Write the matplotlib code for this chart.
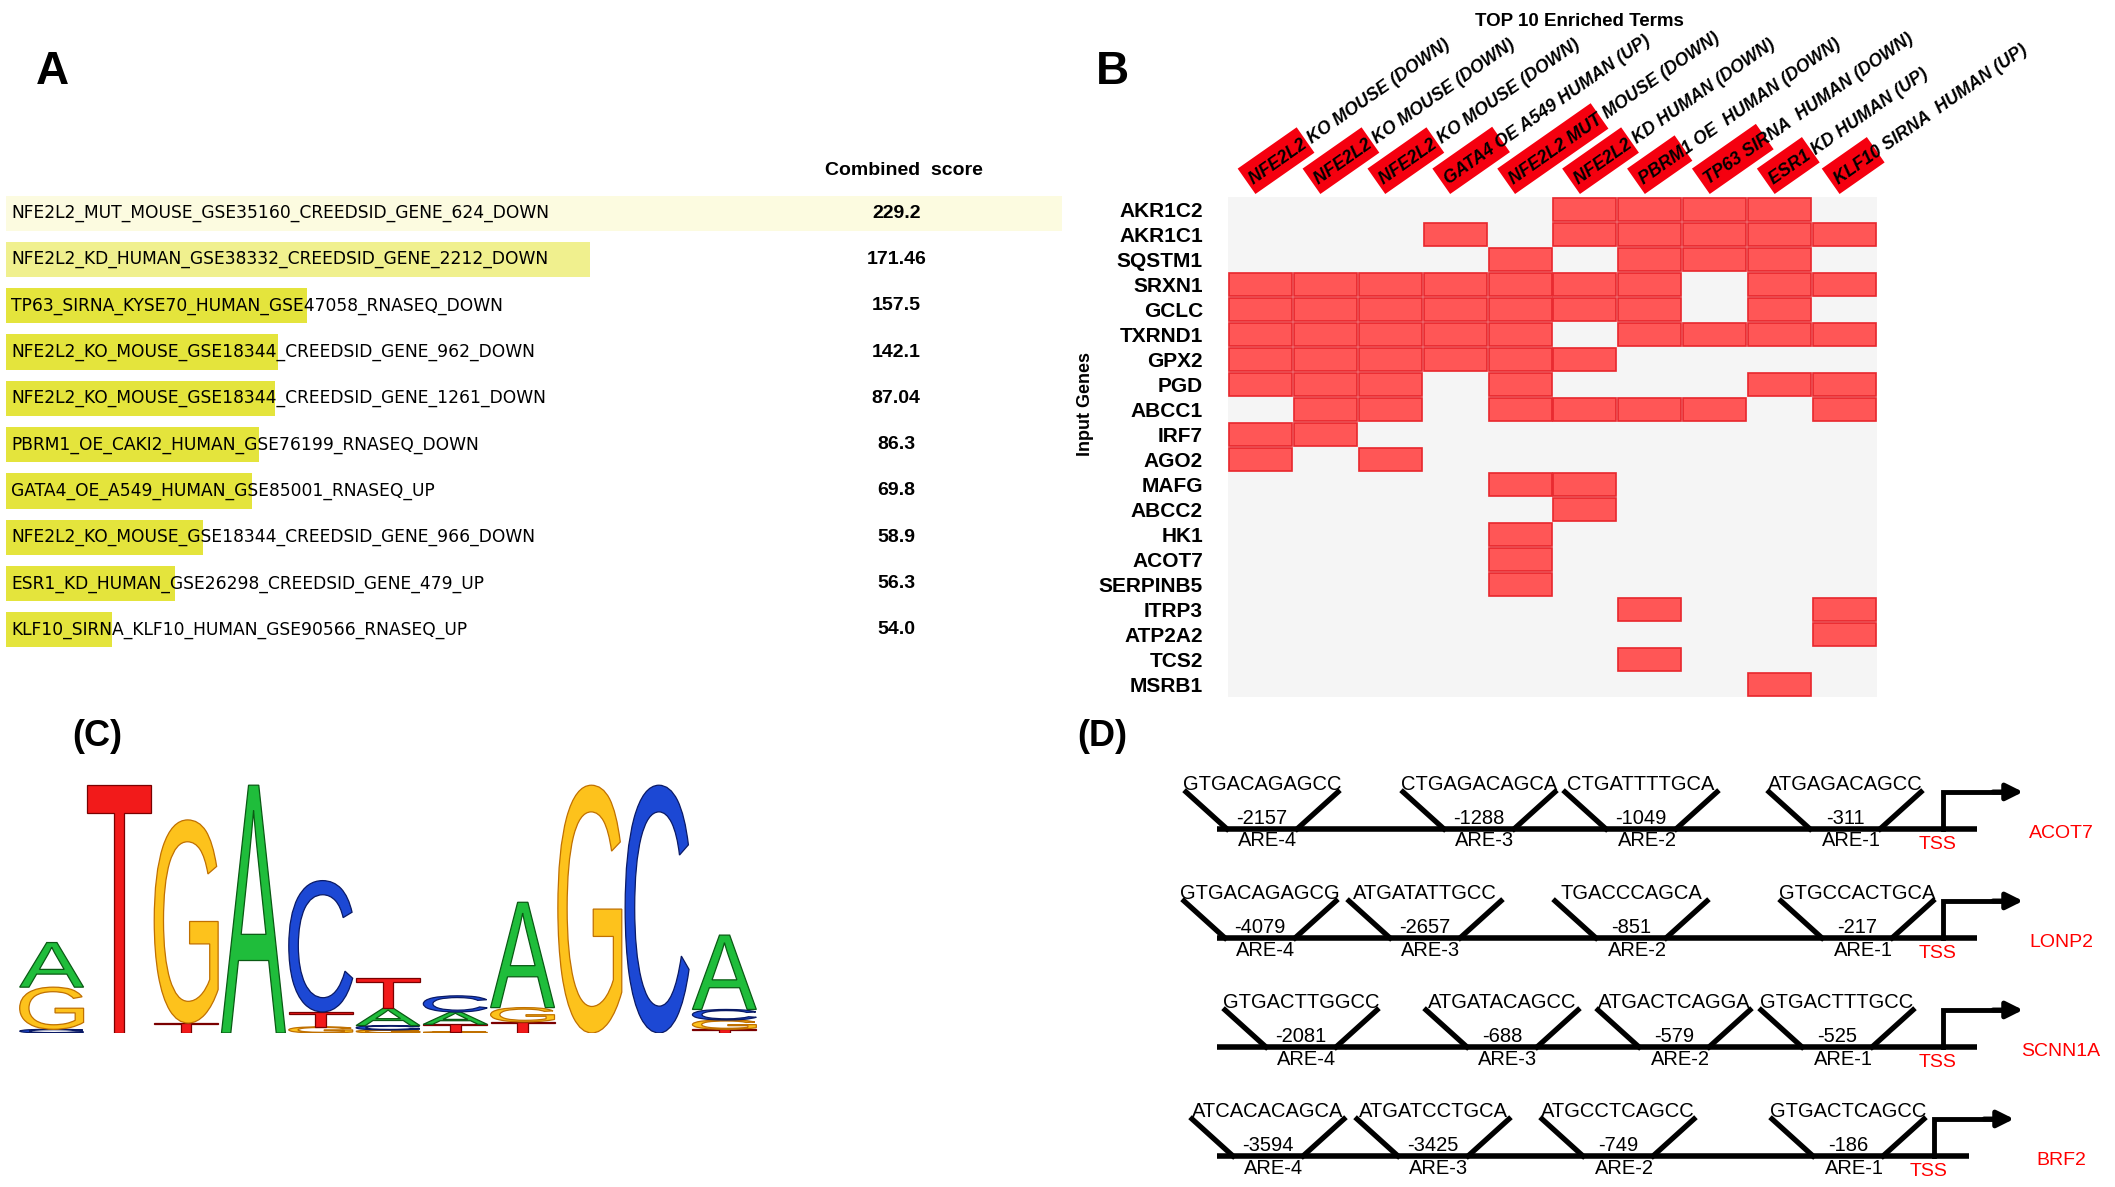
import numpy as np
import matplotlib
matplotlib.use("Agg")
import matplotlib.pyplot as plt
import matplotlib.transforms as mtransforms
from matplotlib import font_manager
from matplotlib.patches import Rectangle, PathPatch
from matplotlib.textpath import TextPath
from matplotlib.font_manager import FontProperties

W, H, DPI = 2115, 1187, 100

# ---------------- panel A data ----------------
terms_a = ["NFE2L2_MUT_MOUSE_GSE35160_CREEDSID_GENE_624_DOWN",
           "NFE2L2_KD_HUMAN_GSE38332_CREEDSID_GENE_2212_DOWN",
           "TP63_SIRNA_KYSE70_HUMAN_GSE47058_RNASEQ_DOWN",
           "NFE2L2_KO_MOUSE_GSE18344_CREEDSID_GENE_962_DOWN",
           "NFE2L2_KO_MOUSE_GSE18344_CREEDSID_GENE_1261_DOWN",
           "PBRM1_OE_CAKI2_HUMAN_GSE76199_RNASEQ_DOWN",
           "GATA4_OE_A549_HUMAN_GSE85001_RNASEQ_UP",
           "NFE2L2_KO_MOUSE_GSE18344_CREEDSID_GENE_966_DOWN",
           "ESR1_KD_HUMAN_GSE26298_CREEDSID_GENE_479_UP",
           "KLF10_SIRNA_KLF10_HUMAN_GSE90566_RNASEQ_UP"]
scores_a = ["229.2", "171.46", "157.5", "142.1", "87.04", "86.3", "69.8", "58.9", "56.3", "54.0"]
bar_len = [1.0, 0.553, 0.285, 0.258, 0.255, 0.24, 0.233, 0.187, 0.16, 0.10]
bar_col = ["#fcfbe0", "#f0f08e"] + ["#e4e43c"] * 8

# ---------------- panel B data ----------------
terms_b = ["NFE2L2 KO MOUSE (DOWN)", "NFE2L2 KO MOUSE (DOWN)", "NFE2L2 KO MOUSE (DOWN)",
           "GATA4 OE A549 HUMAN (UP)", "NFE2L2 MUT MOUSE (DOWN)", "NFE2L2 KD HUMAN (DOWN)",
           "PBRM1 OE  HUMAN (DOWN)", "TP63 SIRNA  HUMAN (DOWN)", "ESR1 KD HUMAN (UP)",
           "KLF10 SIRNA  HUMAN (UP)"]
tag_len = [72, 72, 72, 73, 114, 72, 58, 78, 55, 55]
genes = ["AKR1C2", "AKR1C1", "SQSTM1", "SRXN1", "GCLC", "TXRND1", "GPX2", "PGD", "ABCC1",
         "IRF7", "AGO2", "MAFG", "ABCC2", "HK1", "ACOT7", "SERPINB5", "ITRP3", "ATP2A2",
         "TCS2", "MSRB1"]
hits = np.array([
    [0, 0, 0, 0, 0, 1, 1, 1, 1, 0],
    [0, 0, 0, 1, 0, 1, 1, 1, 1, 1],
    [0, 0, 0, 0, 1, 0, 1, 1, 1, 0],
    [1, 1, 1, 1, 1, 1, 1, 0, 1, 1],
    [1, 1, 1, 1, 1, 1, 1, 0, 1, 0],
    [1, 1, 1, 1, 1, 0, 1, 1, 1, 1],
    [1, 1, 1, 1, 1, 1, 0, 0, 0, 0],
    [1, 1, 1, 0, 1, 0, 0, 0, 1, 1],
    [0, 1, 1, 0, 1, 1, 1, 1, 0, 1],
    [1, 1, 0, 0, 0, 0, 0, 0, 0, 0],
    [1, 0, 1, 0, 0, 0, 0, 0, 0, 0],
    [0, 0, 0, 0, 1, 1, 0, 0, 0, 0],
    [0, 0, 0, 0, 0, 1, 0, 0, 0, 0],
    [0, 0, 0, 0, 1, 0, 0, 0, 0, 0],
    [0, 0, 0, 0, 1, 0, 0, 0, 0, 0],
    [0, 0, 0, 0, 1, 0, 0, 0, 0, 0],
    [0, 0, 0, 0, 0, 0, 1, 0, 0, 1],
    [0, 0, 0, 0, 0, 0, 0, 0, 0, 1],
    [0, 0, 0, 0, 0, 0, 1, 0, 0, 0],
    [0, 0, 0, 0, 0, 0, 0, 0, 1, 0]])

# ---------------- panel C data (bits, bottom -> top) ----------------
logo = [
    [("C", 0.03), ("G", 0.34), ("A", 0.36)],
    [("T", 2.0)],
    [("T", 0.08), ("G", 1.64)],
    [("A", 2.0)],
    [("G", 0.05), ("T", 0.12), ("C", 1.06)],
    [("G", 0.025), ("C", 0.035), ("A", 0.14), ("T", 0.24)],
    [("G", 0.01), ("T", 0.06), ("A", 0.10), ("C", 0.13)],
    [("T", 0.09), ("G", 0.115), ("A", 0.85)],
    [("G", 2.0)],
    [("C", 2.0)],
    [("T", 0.03), ("G", 0.075), ("C", 0.085), ("A", 0.60)],
]
base_fc = {"A": "#1fbd3b", "C": "#1c48d4", "G": "#fdc21c", "T": "#f21a1a"}
base_ec = {"A": "#0a5a14", "C": "#0a1a66", "G": "#c07000", "T": "#7a0000"}

# ---------------- panel D data ----------------
d_genes = ["ACOT7", "LONP2", "SCNN1A", "BRF2"]
d_seqs = [["GTGACAGAGCC", "CTGAGACAGCA", "CTGATTTTGCA", "ATGAGACAGCC"],
          ["GTGACAGAGCG", "ATGATATTGCC", "TGACCCAGCA", "GTGCCACTGCA"],
          ["GTGACTTGGCC", "ATGATACAGCC", "ATGACTCAGGA", "GTGACTTTGCC"],
          ["ATCACACAGCA", "ATGATCCTGCA", "ATGCCTCAGCC", "GTGACTCAGCC"]]
d_pos = [[-2157, -1288, -1049, -311],
         [-4079, -2657, -851, -217],
         [-2081, -688, -579, -525],
         [-3594, -3425, -749, -186]]
# schematic (not to scale) site positions, relative to TSS
d_site_x = [[-681, -464, -302, -98],
            [-683, -518, -312, -86],
            [-642, -441, -269, -106],
            [-675, -510, -325, -95]]
d_tss_x = [0, 0, 0, -9]
d_line_end = [34, 34, 34, 26]
d_line_start = -726

# ---------------- fonts ----------------
names = {f.name for f in font_manager.fontManager.ttflist}
narrow = "Liberation Sans Narrow" if "Liberation Sans Narrow" in names else "DejaVu Sans"
arial = "Liberation Sans"

fig = plt.figure(figsize=(W / DPI, H / DPI), dpi=DPI)


def px_axes(x0, y0, x1, y1):
    return fig.add_axes([x0 / W, 1 - y1 / H, (x1 - x0) / W, (y1 - y0) / H])


# ================= A =================
axA = px_axes(6, 190, 1062, 653)
axA.barh(range(len(terms_a)), bar_len, height=0.76, color=bar_col)
# fit row text to the width seen in the reference
tw = TextPath((0, 0), terms_a[0], size=10, prop=FontProperties(family=narrow)).get_extents().width
fsA = min(16, 10 * 536 / (tw * DPI / 72))
for i, t in enumerate(terms_a):
    axA.text(0.005, i, t, family=narrow, fontsize=fsA, ha="left", va="center")
    axA.text(0.843, i, scores_a[i], family=arial, fontsize=14, fontweight="bold",
             ha="center", va="center")
axA.text(0.85, 1.043, "Combined  score", transform=axA.transAxes, family=arial,
         fontsize=14, fontweight="bold", ha="center", va="center")
axA.set_xlim(0, 1)
axA.set_ylim(len(terms_a) - 0.5, -0.5)
axA.axis("off")
fig.text(52 / W, 1 - 72 / H, "A", family=arial, fontsize=33, fontweight="bold",
         ha="center", va="center")

# ================= B =================
axB = px_axes(1228, 197, 1877, 697)
axB.set_facecolor("#f5f5f5")
nr, nc = hits.shape
for r in range(nr):
    for c in range(nc):
        if hits[r, c]:
            axB.add_patch(Rectangle((c - 0.485, r - 0.46), 0.97, 0.92,
                                    facecolor="#ff5656", edgecolor="#e8262c", lw=1.2))
ang = 35
ca, sa = np.cos(np.radians(ang)), np.sin(np.radians(ang))
for c, (lab, tl) in enumerate(zip(terms_b, tag_len)):
    tr = (mtransforms.Affine2D().rotate_deg(ang).translate(-5, 3)
          + mtransforms.ScaledTranslation(c, -0.5, axB.transData))
    axB.add_patch(Rectangle((0, 0), tl, 31, transform=tr, facecolor="#f5000f",
                            edgecolor="none", clip_on=False))
    dx = 4 * ca - 8 * sa - 5
    dy = 4 * sa + 8 * ca + 3
    ttr = axB.transData + mtransforms.Affine2D().translate(dx, dy)
    axB.text(c, -0.5, lab, transform=ttr, rotation=ang, rotation_mode="anchor",
             ha="left", va="baseline", family=arial, fontsize=12.8,
             fontweight="bold", fontstyle="italic", clip_on=False)
axB.set_xlim(-0.5, nc - 0.5)
axB.set_ylim(nr - 0.5, -0.5)
axB.set_xticks([])
axB.set_yticks(range(nr))
axB.set_yticklabels(genes, family=arial, fontsize=15, fontweight="bold")
axB.tick_params(axis="y", length=0, pad=18)
for s in axB.spines.values():
    s.set_visible(False)
axB.text(-0.219, 0.585, "Input Genes", transform=axB.transAxes, rotation=90,
         family=arial, fontsize=13, fontweight="bold", ha="center", va="center")
axB.text(0.542, 1.35, "TOP 10 Enriched Terms", transform=axB.transAxes,
         family=arial, fontsize=13.5, fontweight="bold", ha="center", va="center")
fig.text(1112 / W, 1 - 72 / H, "B", family=arial, fontsize=33, fontweight="bold",
         ha="center", va="center")

# ================= C =================
axC = px_axes(18, 779, 758, 1033)
fpL = FontProperties(family=arial)


def draw_letter(ax, ch, xc, y0, w, h):
    tp = TextPath((0, 0), ch, size=1, prop=fpL)
    bb = tp.get_extents()
    t = (mtransforms.Affine2D().translate(-bb.x0, -bb.y0)
         .scale(w / bb.width, h / bb.height).translate(xc - w / 2, y0))
    ax.add_patch(PathPatch(t.transform_path(tp), facecolor=base_fc[ch],
                           edgecolor=base_ec[ch], lw=0.9))


for i, stack in enumerate(logo):
    y = 0
    for ch, h in stack:
        draw_letter(axC, ch, i + 1, y, 0.95, h)
        y += h
axC.set_xlim(0.5, len(logo) + 0.5)
axC.set_ylim(0, 2.05)
axC.axis("off")
fig.text(97 / W, 1 - 736 / H, "(C)", family=arial, fontsize=26, fontweight="bold",
         ha="center", va="center")

# ================= D =================
axD = px_axes(1070, 760, 2115, 1187)
vh = 0.34
for r in range(len(d_genes)):
    axD.plot([d_line_start, d_line_end[r]], [r, r], color="black", lw=4.0,
             solid_capstyle="butt")
    tx = d_tss_x[r]
    axD.plot([tx, tx, tx + 58], [r, r - vh, r - vh], color="black", lw=3.5,
             solid_joinstyle="miter")
    axD.annotate("", xy=(tx + 80, r - vh), xytext=(tx + 50, r - vh),
                 arrowprops=dict(arrowstyle="-|>,head_length=1.0,head_width=0.5",
                                 color="black", lw=3.5, shrinkA=0, shrinkB=0))
    for s, cx in enumerate(d_site_x[r]):
        axD.plot([cx - 76, cx - 35], [r - vh, r], color="black", lw=3.8)
        axD.plot([cx + 35, cx + 76], [r, r - vh], color="black", lw=3.8)
        axD.text(cx, r - 0.41, d_seqs[r][s], family=arial, fontsize=14.5,
                 ha="center", va="center")
        axD.text(cx, r - 0.10, str(d_pos[r][s]), family=arial, fontsize=14.5,
                 ha="center", va="center")
        axD.text(cx + 6, r + 0.11, "ARE-%d" % (4 - s), family=arial, fontsize=14.5,
                 ha="center", va="center")
    axD.text(tx - 5, r + 0.14, "TSS", family=arial, fontsize=14, color="#ff0000",
             ha="center", va="center")
    axD.text(118, r + 0.04, d_genes[r], family=arial, fontsize=14, color="#ff0000",
             ha="center", va="center")
axD.set_xlim(-873, 172)
axD.set_ylim(3.284, -0.633)
axD.axis("off")
fig.text(1102 / W, 1 - 736 / H, "(D)", family=arial, fontsize=26, fontweight="bold",
         ha="center", va="center")

fig.savefig("out.png", dpi=DPI)
